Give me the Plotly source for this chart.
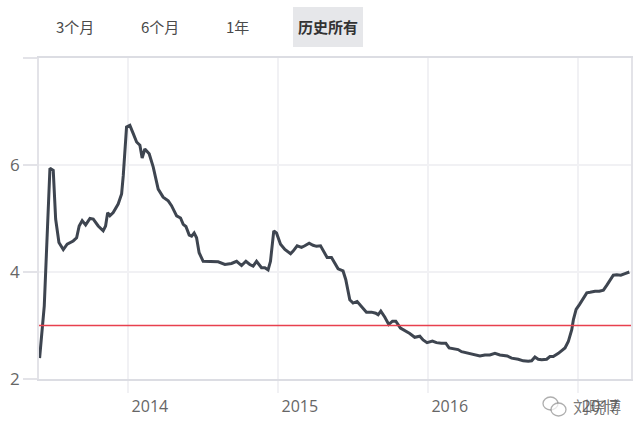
import datetime as dt
import plotly.graph_objects as go

# Time positions as decimal years
dec_years = [
    2013.411, 2013.442, 2013.480, 2013.502, 2013.518, 2013.540, 2013.569, 2013.595, 2013.635, 2013.658,
    2013.675, 2013.695, 2013.718, 2013.747, 2013.769, 2013.802, 2013.835, 2013.851, 2013.865, 2013.880,
    2013.902, 2013.935, 2013.958, 2013.969, 2013.991, 2014.013, 2014.035, 2014.058, 2014.080, 2014.095,
    2014.113, 2014.142, 2014.169, 2014.185, 2014.202, 2014.235, 2014.269, 2014.291, 2014.325, 2014.351,
    2014.369, 2014.387, 2014.409, 2014.425, 2014.442, 2014.458, 2014.475, 2014.502, 2014.547, 2014.602,
    2014.647, 2014.691, 2014.725, 2014.758, 2014.787, 2014.813, 2014.835, 2014.858, 2014.891, 2014.913,
    2014.935, 2014.951, 2014.973, 2014.991, 2015.018, 2015.047, 2015.085, 2015.102, 2015.129, 2015.158,
    2015.180, 2015.209, 2015.235, 2015.258, 2015.285, 2015.313, 2015.329, 2015.358, 2015.380, 2015.402,
    2015.435, 2015.453, 2015.480, 2015.502, 2015.529, 2015.558, 2015.591, 2015.625, 2015.653, 2015.669,
    2015.687, 2015.713, 2015.740, 2015.765, 2015.787, 2015.818, 2015.847, 2015.880, 2015.913, 2015.947,
    2015.969, 2015.995, 2016.031, 2016.058, 2016.091, 2016.120, 2016.142, 2016.169, 2016.202, 2016.225,
    2016.258, 2016.302, 2016.347, 2016.380, 2016.413, 2016.447, 2016.480, 2016.529, 2016.558, 2016.602,
    2016.635, 2016.669, 2016.691, 2016.713, 2016.735, 2016.758, 2016.791, 2016.813, 2016.835, 2016.869,
    2016.913, 2016.935, 2016.958, 2016.969, 2016.987, 2017.009, 2017.035, 2017.058, 2017.080, 2017.113,
    2017.142, 2017.169, 2017.191, 2017.213, 2017.235, 2017.258, 2017.285, 2017.313, 2017.342,
]

values = [
    2.39, 3.36, 5.94, 5.90, 4.99, 4.55, 4.42, 4.52, 4.58, 4.64,
    4.86, 4.96, 4.88, 5.00, 4.99, 4.86, 4.77, 4.86, 5.11, 5.05,
    5.11, 5.27, 5.46, 5.80, 6.71, 6.74, 6.59, 6.43, 6.37, 6.13,
    6.30, 6.21, 5.96, 5.74, 5.55, 5.40, 5.33, 5.24, 5.05, 5.01,
    4.89, 4.85, 4.69, 4.67, 4.73, 4.64, 4.36, 4.20, 4.19, 4.19,
    4.14, 4.16, 4.20, 4.12, 4.20, 4.14, 4.11, 4.20, 4.08, 4.08,
    4.04, 4.20, 4.77, 4.73, 4.52, 4.42, 4.34, 4.39, 4.49, 4.46,
    4.49, 4.54, 4.50, 4.48, 4.49, 4.33, 4.27, 4.27, 4.17, 4.06,
    4.02, 3.86, 3.48, 3.42, 3.45, 3.35, 3.25, 3.25, 3.23, 3.20,
    3.27, 3.16, 3.02, 3.08, 3.08, 2.95, 2.91, 2.85, 2.78, 2.80,
    2.73, 2.68, 2.71, 2.68, 2.67, 2.67, 2.58, 2.56, 2.55, 2.51,
    2.49, 2.47, 2.43, 2.45, 2.45, 2.48, 2.45, 2.43, 2.39, 2.37,
    2.34, 2.33, 2.34, 2.41, 2.37, 2.36, 2.37, 2.42, 2.42, 2.48,
    2.58, 2.70, 2.92, 3.11, 3.30, 3.39, 3.50, 3.61, 3.62, 3.64,
    3.64, 3.66, 3.75, 3.85, 3.94, 3.95, 3.94, 3.97, 4.00,
]

threshold = 3.0
year_ticks = [2014, 2015, 2016, 2017]
year_labels = ["2014", "2015", "2016", "2017"]
y_ticks = [2, 4, 6, 8]
y_labels = ["2", "4", "6", ""]
x_range_years = [2013.407, 2017.353]
buttons = ["3个月", "6个月", "1年", "历史所有"]
watermark = "刘晓博"


def dec_to_date(y):
    year = int(y)
    start = dt.datetime(year, 1, 1)
    end = dt.datetime(year + 1, 1, 1)
    return start + (end - start) * (y - year)


dates = [dec_to_date(v) for v in dec_years]

fig = go.Figure()
fig.add_trace(go.Scatter(
    x=dates, y=values, mode="lines",
    line=dict(color="#3e4550", width=3),
    showlegend=False, hoverinfo="skip",
))

fig.add_shape(type="line", xref="paper", yref="y", x0=0, x1=1,
              y0=threshold, y1=threshold,
              line=dict(color="#e8404e", width=1.5))

W, H = 640, 434
ml, mr, mt, mb = 39, 9, 58, 55
pw, ph = W - ml - mr, H - mt - mb


def px(x):
    return (x - ml) / pw


def py(y):
    return (H - mb - y) / ph


# selected button background
fig.add_shape(type="rect", xref="paper", yref="paper",
              x0=px(293), x1=px(363), y0=py(47), y1=py(7),
              fillcolor="#e6e7ea", line=dict(width=0), layer="below")

btn_x = [74.5, 160, 237.5, 328]
for i, (label, bx) in enumerate(zip(buttons, btn_x)):
    sel = i == len(buttons) - 1
    fig.add_annotation(
        x=px(bx), y=py(26), xref="paper", yref="paper", text=label,
        showarrow=False, xanchor="center", yanchor="middle",
        font=dict(family="Noto Sans CJK SC", size=15,
                  color="#333333" if sel else "#4a4a4a",
                  weight="bold" if sel else "normal"),
    )

# watermark
fig.add_shape(type="circle", xref="paper", yref="paper",
              x0=px(543), x1=px(558), y0=py(410), y1=py(397),
              line=dict(color="rgba(120,120,120,0.6)", width=1.3))
fig.add_shape(type="circle", xref="paper", yref="paper",
              x0=px(551), x1=px(566), y0=py(416), y1=py(403),
              line=dict(color="rgba(120,120,120,0.6)", width=1.3),
              fillcolor="rgba(255,255,255,0.7)")
fig.add_annotation(x=px(597), y=py(406), xref="paper", yref="paper",
                   xanchor="center", yanchor="middle",
                   text=watermark, showarrow=False,
                   font=dict(family="Noto Sans CJK SC", size=16,
                             color="rgba(85,85,85,0.8)"))

fig.update_layout(
    width=W, height=H,
    margin=dict(l=ml, r=mr, t=mt, b=mb, autoexpand=False),
    paper_bgcolor="white", plot_bgcolor="white",
    font=dict(family="Open Sans", color="#666666"),
    xaxis=dict(
        type="date", automargin=False,
        range=[dec_to_date(x_range_years[0]), dec_to_date(x_range_years[1])],
        tickvals=[dt.datetime(y, 1, 1) for y in year_ticks],
        ticktext=year_labels,
        ticklabelshift=22,
        tickfont=dict(size=16, color="#666666"),
        showgrid=True, gridcolor="#f1f1f4", gridwidth=1.5,
        ticks="outside", ticklen=12, tickcolor="#f1f1f4", tickwidth=1.5,
        showline=True, linecolor="#dcdde3", linewidth=2, mirror=True,
        zeroline=False,
    ),
    yaxis=dict(
        range=[2, 8], automargin=False,
        tickvals=y_ticks, ticktext=y_labels,
        tickfont=dict(size=17, color="#666666"),
        showgrid=True, gridcolor="#f1f1f4", gridwidth=1.5,
        ticks="outside", ticklen=14, tickcolor="#e3e3e8", tickwidth=1.5,
        showline=True, linecolor="#e3e3e8", linewidth=1.5, mirror=True,
        zeroline=False,
    ),
)

fig.write_html(
    "out.html",
    config={"displayModeBar": False},
    post_script="document.body.style.margin='0';document.body.style.padding='0';",
)
